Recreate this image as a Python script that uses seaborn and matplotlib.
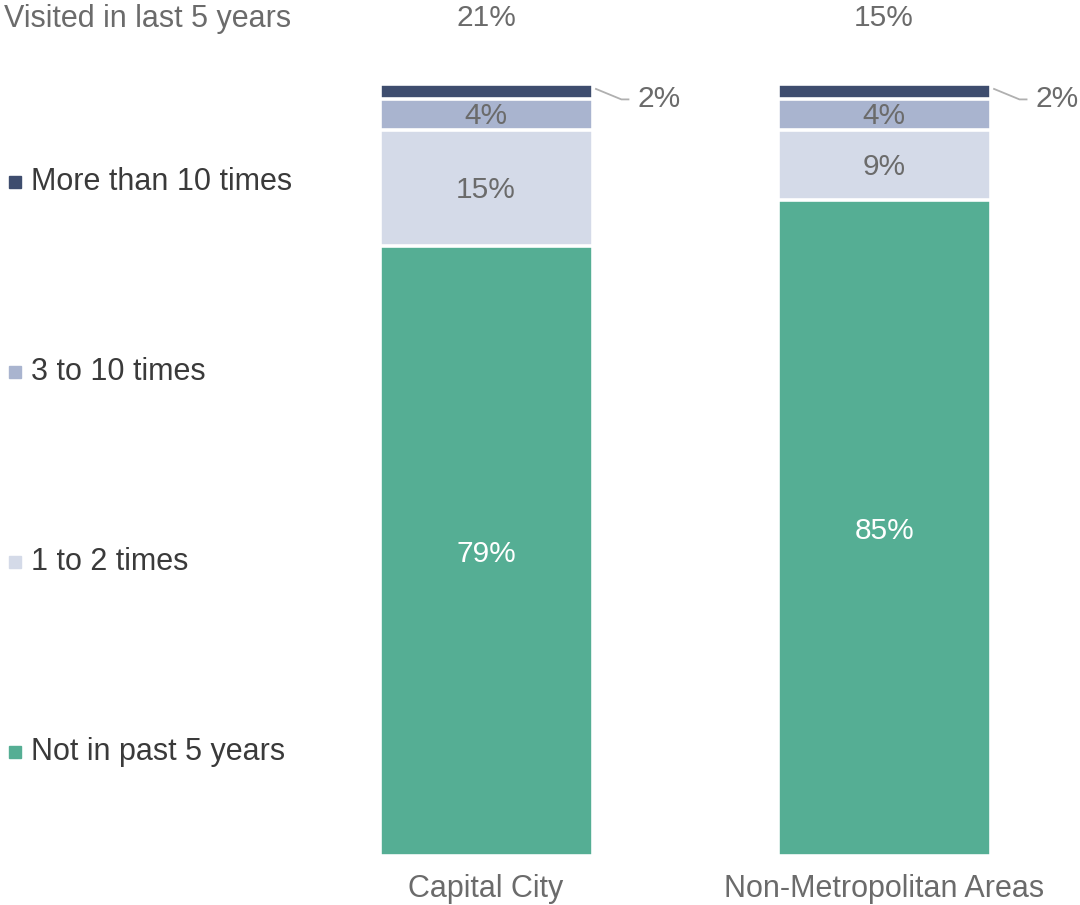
import numpy as np
import pandas as pd
import matplotlib
matplotlib.use("Agg")
import matplotlib.pyplot as plt
import seaborn as sns

# data
regions = ["Capital City", "Non-Metropolitan Areas"]
not_past5 = [79, 85]
one_two = [15, 9]
three_ten = [4, 4]
more_ten = [2, 2]
visited_total = [21, 15]

series_names = ["Not in past 5 years", "1 to 2 times", "3 to 10 times", "More than 10 times"]
series_vals = [not_past5, one_two, three_ten, more_ten]
colors = ["#55ae94", "#d4dae8", "#a9b4cf", "#3e4d6e"]

sns.set_theme(style="white")
plt.rcParams["font.family"] = ["Liberation Sans", "DejaVu Sans"]

fig = plt.figure(figsize=(10.8, 9.05), dpi=100)
ax = fig.add_axes([0, 0, 1, 1])

# cumulative tops, drawn from tallest down so each layer shows
cum = np.cumsum(np.array(series_vals), axis=0)
df = pd.DataFrame({"region": regions})
for i in range(len(series_names) - 1, -1, -1):
    df["top"] = cum[i]
    sns.barplot(data=df, x="region", y="top", color=colors[i], saturation=1,
                width=0.535, edgecolor="white", linewidth=2.6, ax=ax)

ax.set_xlim(-1.221, 1.492)
ax.set_ylim(-6.3, 110.87)
ax.axis("off")

grey = "#6b6b6b"
fs = 21.5
for j in range(len(regions)):
    bottoms = np.concatenate([[0], cum[:, j]])
    for i in range(len(series_names)):
        v = series_vals[i][j]
        mid = (bottoms[i] + bottoms[i + 1]) / 2
        if i == 0:
            ax.text(j, mid - 0.4, f"{v}%", ha="center", va="center", color="white", fontsize=fs)
        elif i == 3:
            # small segment: label outside with leader line
            ax.plot([j + 0.274, j + 0.34, j + 0.36], [mid + 0.4, mid - 1.0, mid - 1.0],
                    color="#b0b0b0", lw=1.3, solid_capstyle="butt")
            ax.text(j + 0.38, mid - 1.0, f"{v}%", ha="left", va="center", color=grey, fontsize=fs)
        else:
            ax.text(j, mid - 0.2, f"{v}%", ha="center", va="center", color=grey, fontsize=fs)
    ax.text(j, 108.6, f"{visited_total[j]}%", ha="center", va="center", color=grey, fontsize=fs)
    ax.text(j, -4.2, regions[j], ha="center", va="center", color=grey, fontsize=22)

# left-hand legend
fig.text(0.004, 1 - 19 / 905, "Visited in last 5 years", ha="left", va="center", color=grey, fontsize=22)
leg_y = [181, 371, 561, 751]
for name, c, y in zip(series_names[::-1], colors[::-1], leg_y):
    fig.patches.append(plt.Rectangle((9 / 1080, 1 - (y + 7) / 905), 12 / 1080, 12 / 905,
                                     transform=fig.transFigure, color=c, figure=fig))
    fig.text(31 / 1080, 1 - (y + 1) / 905, name, ha="left", va="center", color="#3a3a3a", fontsize=22)

fig.savefig("out.png", dpi=100)
